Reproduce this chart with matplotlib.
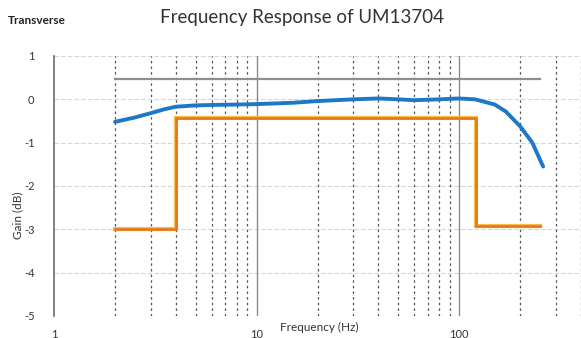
import matplotlib
matplotlib.use("Agg")
import matplotlib.pyplot as plt
from matplotlib.ticker import FixedLocator, NullFormatter

plt.rcParams['font.family'] = ['Lato', 'DejaVu Sans']

# Data
blue_freq = [2, 2.5, 3, 3.5, 4, 5, 6, 8, 10, 15, 20, 30, 40, 50, 60, 80, 100, 120, 150, 170, 200, 230, 260]
blue_gain = [-0.52, -0.42, -0.32, -0.23, -0.17, -0.14, -0.13, -0.12, -0.11, -0.08, -0.04, 0.0, 0.02, 0.0, -0.02, 0.0, 0.02, 0.0, -0.12, -0.28, -0.62, -1.0, -1.55]

orange_freq = [2, 4, 4, 121, 121, 250]
orange_gain = [-3.0, -3.0, -0.42, -0.42, -2.92, -2.92]

gray_freq = [2, 250]
gray_gain = [0.47, 0.47]

y_ticks = [1, 0, -1, -2, -3, -4, -5]
x_major = [1, 10, 100]
x_minor = [2, 3, 4, 5, 6, 7, 8, 9, 20, 30, 40, 50, 60, 70, 80, 90, 200, 300, 400]

fig = plt.figure(figsize=(5.81, 3.38), dpi=100)
ax = fig.add_axes([54/581, (338-316)/338, (581-54)/581, (316-56)/338])
ax.set_xscale('log')
ax.set_xlim(1, 400)
ax.set_ylim(-5, 1)

for s in ['top', 'right', 'bottom']:
    ax.spines[s].set_visible(False)
ax.spines['left'].set_color('#6b6b6b')
ax.spines['left'].set_linewidth(1.2)

ax.xaxis.set_major_locator(FixedLocator(x_major))
ax.xaxis.set_minor_locator(FixedLocator(x_minor))
ax.xaxis.set_minor_formatter(NullFormatter())
ax.set_xticklabels([str(v) for v in x_major])
ax.set_yticks(y_ticks)
ax.set_yticklabels([str(v) for v in y_ticks])
ax.tick_params(axis='both', which='both', length=0, labelsize=8, colors='#333333')
ax.tick_params(axis='x', pad=9)
ax.tick_params(axis='y', pad=14)

# grid
for yv in y_ticks:
    ax.axhline(yv, color='#d6d6d6', lw=0.8, ls=(0, (4, 2)), zorder=0)
for xv in x_major[1:]:
    ax.axvline(xv, color='#8a8a8a', lw=1.0, zorder=0)
for xv in x_minor:
    ax.axvline(xv, color='#555555', lw=0.9, ls=(0, (2, 2.5)), zorder=0)

ax.plot(gray_freq, gray_gain, color='#8f8f8f', lw=1.6, zorder=2)
ax.plot(orange_freq, orange_gain, color='#F5C04A', lw=3.0, zorder=2, solid_joinstyle='miter')
ax.plot(orange_freq, orange_gain, color='#E8731E', lw=1.8, zorder=3, solid_joinstyle='miter')
ax.plot(blue_freq, blue_gain, color='#1E78C8', lw=2.8, zorder=4, solid_capstyle='round', solid_joinstyle='round')

fig.text(8/581, 1 - 20/338, 'Transverse', fontsize=8.5, fontweight='bold', color='#222222', va='center', ha='left')
fig.text(302/581, 1 - 18/338, 'Frequency Response of UM13704', fontsize=13.5, color='#333333', va='center', ha='center')
fig.text(280/581, 1 - 327/338, 'Frequency (Hz)', fontsize=8.5, color='#333333', va='center', ha='left')
fig.text(18/581, 1 - 215/338, 'Gain (dB)', fontsize=8.5, color='#333333', va='center', ha='center', rotation=90)

fig.savefig('out.png', dpi=100)
